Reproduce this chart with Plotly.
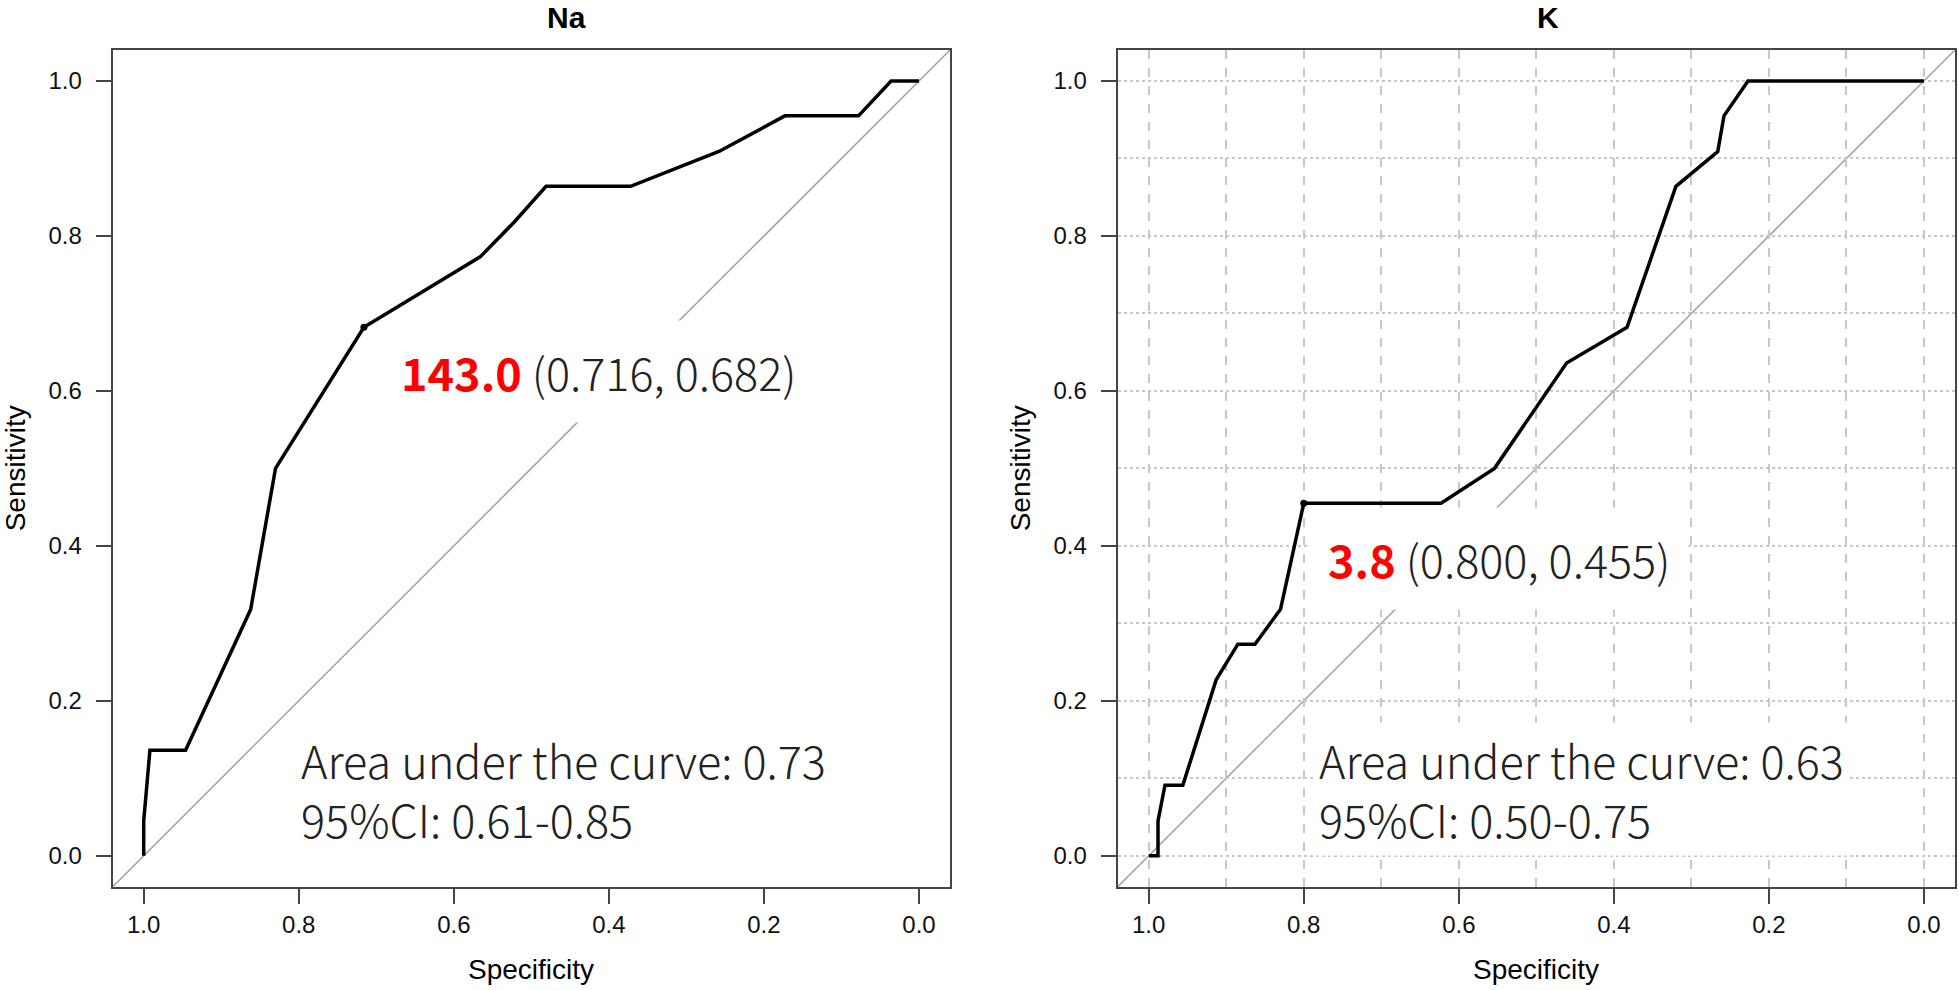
import plotly.graph_objects as go

# ---------------- data ----------------
panel_titles = ["Na", "K"]

na_spec = [1.000, 1.000, 0.992, 0.946, 0.862, 0.830, 0.716, 0.566, 0.522, 0.481, 0.372, 0.258, 0.173, 0.078, 0.036, 0.000]
na_sens = [0.000, 0.045, 0.136, 0.136, 0.318, 0.500, 0.682, 0.773, 0.818, 0.864, 0.864, 0.909, 0.955, 0.955, 1.000, 1.000]

k_spec = [1.000, 0.988, 0.988, 0.979, 0.956, 0.913, 0.885, 0.863, 0.830, 0.800, 0.623, 0.554, 0.461, 0.383, 0.320, 0.266, 0.258, 0.227, 0.000]
k_sens = [0.000, 0.000, 0.045, 0.091, 0.091, 0.227, 0.273, 0.273, 0.318, 0.455, 0.455, 0.500, 0.636, 0.682, 0.864, 0.909, 0.955, 1.000, 1.000]

cutoff_labels = ["143.0", "3.8"]
cutoff_spec = [0.716, 0.800]
cutoff_sens = [0.682, 0.455]

auc_values = ["0.73", "0.63"]
ci_values = ["0.61-0.85", "0.50-0.75"]

tick_vals = [0.0, 0.2, 0.4, 0.6, 0.8, 1.0]

# ---------------- figure ----------------
W, H = 1959, 990
fig = go.Figure()

AX_COLOR = "#444444"
SANS = "Liberation Sans, Arial, sans-serif"
TICK_FONT = dict(family=SANS, size=24, color="#111111")
ANN_FONT = "Noto Sans CJK JP, Noto Sans, sans-serif"

x_domains = [[112.7 / W, 950.0 / W], [1117.7 / W, 1955.0 / W]]
y_domain = [1 - 886.7 / H, 1 - 50.0 / H]

curves = [(na_spec, na_sens), (k_spec, k_sens)]

for i, (sp, se) in enumerate(curves):
    xa = "x" if i == 0 else "x2"
    ya = "y" if i == 0 else "y2"
    fig.add_trace(go.Scatter(x=sp, y=se, mode="lines", xaxis=xa, yaxis=ya,
                             line=dict(color="black", width=3.5), showlegend=False,
                             hoverinfo="skip"))
    fig.add_trace(go.Scatter(x=[cutoff_spec[i]], y=[cutoff_sens[i]], mode="markers",
                             xaxis=xa, yaxis=ya, marker=dict(color="black", size=7),
                             showlegend=False, hoverinfo="skip"))

common_x = dict(range=[1.04, -0.04], tickvals=tick_vals, tickformat=".1f",
                ticks="outside", ticklen=15, tickwidth=2, tickcolor=AX_COLOR,
                showline=True, linecolor=AX_COLOR, linewidth=2, mirror=True,
                zeroline=False, tickfont=TICK_FONT)
common_y = dict(range=[-0.04, 1.04], tickvals=tick_vals, tickformat=".1f",
                ticks="outside", ticklen=15, tickwidth=2, tickcolor=AX_COLOR,
                showline=True, linecolor=AX_COLOR, linewidth=2, mirror=True,
                zeroline=False, tickfont=TICK_FONT, ticklabelstandoff=9,
                domain=y_domain)

GRID = "#c8c8c8"
fig.update_layout(
    width=W, height=H,
    margin=dict(l=0, r=0, t=0, b=0),
    paper_bgcolor="white", plot_bgcolor="white",
    xaxis=dict(common_x, domain=x_domains[0], anchor="y", showgrid=False),
    yaxis=dict(common_y, anchor="x", showgrid=False),
    xaxis2=dict(common_x, domain=x_domains[1], anchor="y2", showgrid=True,
                gridcolor=GRID, gridwidth=1.5, griddash="dash",
                minor=dict(tick0=0, dtick=0.1, showgrid=True, gridcolor=GRID,
                           gridwidth=1.5, griddash="dash")),
    yaxis2=dict(common_y, anchor="x2", showgrid=True,
                gridcolor=GRID, gridwidth=1.5, griddash="dot",
                minor=dict(tick0=0, dtick=0.1, showgrid=True, gridcolor=GRID,
                           gridwidth=1.5, griddash="dot")),
)

annotations = []
shapes = []
title_x = [566, 1548]
for i in range(2):
    xr = "x" if i == 0 else "x2"
    yr = "y" if i == 0 else "y2"
    xc = (x_domains[i][0] + x_domains[i][1]) / 2
    # diagonal reference line
    shapes.append(dict(type="line", xref=xr + " domain", yref=yr + " domain",
                       x0=0, y0=0, x1=1, y1=1, layer="below",
                       line=dict(color="#a0a0a0", width=1.5)))
    # title
    annotations.append(dict(text="<b>" + panel_titles[i] + "</b>", xref="paper", yref="paper",
                            x=title_x[i] / W, y=1 - 17.5 / H, showarrow=False,
                            xanchor="center", yanchor="middle",
                            font=dict(family=SANS, size=30, color="black")))
    # axis titles
    annotations.append(dict(text="Specificity", xref="paper", yref="paper",
                            x=xc, y=1 - 969 / H, showarrow=False,
                            xanchor="center", yanchor="middle",
                            font=dict(family=SANS, size=28, color="black")))
    sens_x = [15, 1020][i]
    annotations.append(dict(text="Sensitivity", xref="paper", yref="paper",
                            x=sens_x / W, y=(y_domain[0] + y_domain[1]) / 2, showarrow=False,
                            textangle=-90, xanchor="center", yanchor="middle",
                            font=dict(family=SANS, size=28, color="black")))
    # cutoff label
    cut_text = ('<b><span style="color:#ff0000">' + cutoff_labels[i] + '</span></b> ('
                + f"{cutoff_spec[i]:.3f}, {cutoff_sens[i]:.3f})")
    annotations.append(dict(text=cut_text, xref=xr, yref=yr,
                            x=[0.6925, 0.793][i], y=[0.6246, 0.384][i], showarrow=False,
                            xanchor="left", yanchor="middle", bgcolor="white", borderpad=18,
                            font=dict(family=ANN_FONT, size=45, color="#222222", weight=300)))
    # AUC text
    auc_x = [0.804, 0.787][i]
    annotations.append(dict(text="Area under the curve: " + auc_values[i] + "<br>95%CI: " + ci_values[i],
                            xref=xr, yref=yr, x=auc_x, y=0.0866, showarrow=False,
                            xanchor="left", yanchor="middle", align="left",
                            bgcolor="white", borderpad=4,
                            font=dict(family=ANN_FONT, size=45, color="#222222", weight=300)))

fig.update_layout(annotations=annotations, shapes=shapes)

fig.write_html("out.html", config={"displayModeBar": False},
               post_script="document.body.style.margin='0';")
